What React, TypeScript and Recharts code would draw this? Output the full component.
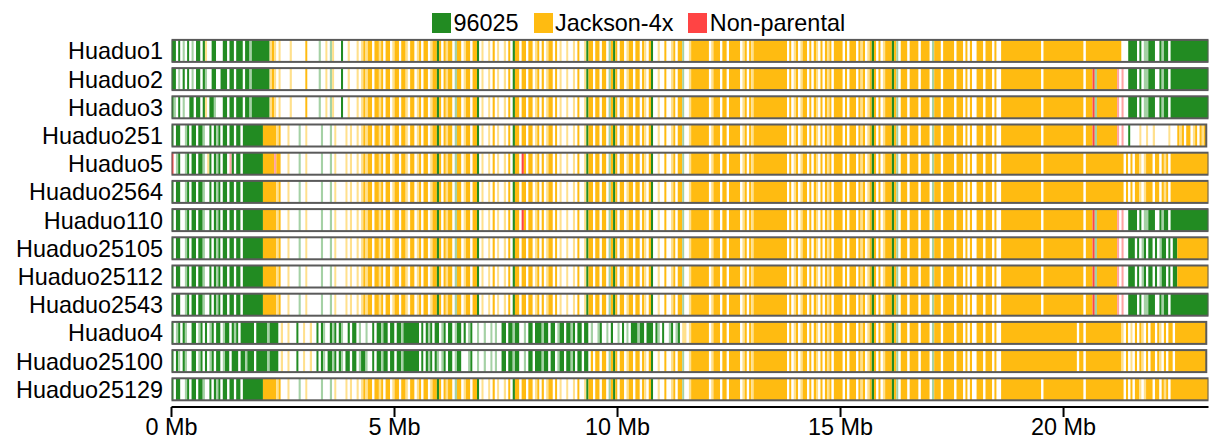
import React from 'react'
import { BarChart, Bar, XAxis, YAxis, Cell } from 'recharts'

// genotype calls are read in 0.05 Mb bins along the chromosome
const BIN_MB = 0.05
const CHROM_MB = 23.25
const X_TICKS = [0, 5, 10, 15, 20]

const FONT = '"Liberation Sans", Arial, sans-serif'
const YAXIS_WIDTH = 171.5
const MARGIN = { top: 36.9, right: 3.5, bottom: 0, left: 0 }

const LEGEND = [
  { label: '96025', color: '#228B22' },
  { label: 'Jackson-4x', color: '#FFBB11' },
  { label: 'Non-parental', color: '#FF4444' },
]

// G = 96025, Y = Jackson-4x, R = non-parental, lower case = faint call, W = no call
const CALL_COLORS: Record<string, string> = {
  G: '#228B22',
  g: '#A5D1A5',
  Y: '#FFBB11',
  y: '#FFE08C',
  R: '#FF4444',
  r: '#FFA3A3',
  W: '#FFFFFF',
}

const LINES = [
  'Huaduo1',
  'Huaduo2',
  'Huaduo3',
  'Huaduo251',
  'Huaduo5',
  'Huaduo2564',
  'Huaduo110',
  'Huaduo25105',
  'Huaduo25112',
  'Huaduo2543',
  'Huaduo4',
  'Huaduo25100',
  'Huaduo25129',
]

// 0 - 1.5 Mb
const P1A = ['GGWGWgWGWg', 'WGGWGyWWGG', 'WWWGGWGGWG'].join('')
const P1A2 = ['GGWgWGWGWg', 'WGGWGgWWGG', 'WWGGGWGGWG'].join('')
const P1A3 = ['GgWGWgWWGG', 'WGGWGyWGGg', 'WWWGGWGGWG'].join('')
const P1B = ['GWGGWWgGWG', 'GWGGgWWGWG', 'gGWGGWGGWG'].join('')
const P1C = ['RWgGWWgGWG', 'GWGGgWyGWG', 'gGWGGWrGWG'].join('')
// 1.5 - 2.2 Mb
const P2A = 'GGWGGgGGGGGGGG'
const P2B = 'GWGGGGGGGGGYYY'
// 2.2 - 4.3 Mb
const P3A = ['yYyWy', 'WWWWyWWWWW', 'WYWWWWWgWW', 'yWgyWWWGWW', 'yWWWyWy'].join('')
const P3B = ['YYYyY', 'WWWyWWWWgW', 'WyWWWWWWgW', 'WWgWyWWWWy', 'WyWWyWy'].join('')
const P3C = ['YYrYY', 'WWWyWWWWgW', 'WyWWWWWWgW', 'WWgWyWWWWy', 'WyWWyWy'].join('')
// 4.3 - 7.8 Mb
const P4A = ['YyYYWYYyYW', 'YYWyYYWYYy', 'WYYWyYWYYW', 'yYYGYWYyYY', 'WgYYWyYYWY', 'YGWyWWyWYW', 'yWWyWYWGYY'].join('')
// 7.8 - 11.55 Mb
const P4B = ['WYYWYYWyYW', 'YWyYYWYWyW', 'WyWWyWYWWy', 'GYYWYYWYYW', 'gYGYWYYWyY', 'YWYYWYyWYG', 'WWyWWYWWyY', 'WYYgW'].join('')
const P4B_RED = ['WRYWYYWyYW', 'YWyYYWYWyW', 'WyWWyWYWWy', 'GYYWYYWYYW', 'gYGYWYYWyY', 'YWYYWYyWYG', 'WWyWWYWWyY', 'WYYgW'].join('')
// 11.55 - 19.05 Mb
const P5_HEAD = [
  'WyYYYYYYYY', 'WyYYYWYYWY', 'YYYYWyYWYy', 'YYYYYYYYYY', 'YYYYYWYWyY',
  'WyYYWYWYyW', 'YWYyYWYYYY', 'WYWYYYWYyY', 'WyYGYWYWyY', 'YYGYgWYYYW',
  'YYYYWYYYYW', 'gYYYWYYYYY', 'WYYYWYWYWW', 'YYYWYYYWYW', 'WYYYYYYYYY',
].join('')
// 19.05 - 20.65 Mb
const P5_TAIL = ['YYYYYYYYYW', 'YYYYYYYYYY', 'YYYYYYYYWY', 'YY'].join('')
const P5_TAIL_B = ['YYYYYYYYYY', 'YYYYYYYYYY', 'YYYYYWYYWY', 'YY'].join('')
// 20.65 - 21.45 Mb
const P6_ONE = 'YYYYYYYYYYYYYWWW'
const P6_RED = 'RgYYYYYYYYYrWrWW'
const P6_YEL = 'YYYYYYYYYYYYYYWY'
const P6_Y2 = 'YYYYYYYYYYYYYyWY'
// 21.45 Mb - end
const P7_GREEN = 'GGGGWGWggGGGWWGgGGWGG' + 'GGGGGGGGGGGGGGG'
const P7_GY = 'GGGWGWgGWGGWGWgGGWGWG' + 'G' + 'YYYYYYYYYYYYYY'
const P7_251 = 'GWWWWyWWyWWyWWWWWWyWWW' + 'YyYWYYWyYWYyY'
const P7_YEL = 'WYWYYyWyYYYWYYWYyYWYY' + 'YYYYYYYYYYYYYYY'
const P7_Y2 = 'WyWYWYyWYWYYWYyWYWYYW' + 'YYYYYYYYYYYYYY'

// Huaduo4 / Huaduo25100 carry a long 96025 block on the left arm
const Q1 = ['GWgGWGgWWG', 'GWgGWGWgGW', 'GGWgGGWGgG', 'WGGGGGGW'].join('')
const Q1B = ['GWGgWGgWWG', 'GWgGWGWgGW', 'GGWgGGWGGG', 'WGGgGGGW'].join('')
const Q2 = 'GGGGGgGGGG'
const Q3 = 'WyWWyWWWGWWyWWyWW'
const Q4A = ['GWGgWWGgGW', 'GgWWGWGGWg', 'WWgWWGWGGg', 'GGWGGWGGgG', 'GGGGGGWGWG', 'gGWGGWgGWG', 'GWgGGWGWgG'].join('')
const Q4A2 = ['GWGgWGGgGW', 'GgWGGWGGWg', 'GGgWWGWGGg', 'GGWGGWGGgG', 'GGGGGGWGWG', 'gGWGgWgGWG', 'GWgGGWWWgG'].join('')
const Q4B = ['WWgWWgWWgW', 'gWWGGWGGgG', 'GWWgWGGWGG', 'GgGGWGGWgG', 'GWGGgGWGGW', 'GGW'].join('')
const Q4C = ['gWWgGWW', 'gWGWWgWGWg', 'WGGGgGGWGG', 'GWGgWGWWgG', 'WgGWyy'].join('')
const Q4D = ['YWYYWYYW', 'gYGYWYYWyY', 'YWYYWYyWYG', 'WWyWWYWWyY', 'WYYgW'].join('')

const ROW_PIECES = [
  [P1A, P2A, P3A, P4A, P4B, P5_HEAD, P5_TAIL, P6_ONE, P7_GREEN],
  [P1A2, P2A, P3A, P4A, P4B, P5_HEAD, P5_TAIL, P6_RED, P7_GREEN],
  [P1A3, P2A, P3A, P4A, P4B, P5_HEAD, P5_TAIL, P6_RED, P7_GREEN],
  [P1B, P2B, P3B, P4A, P4B, P5_HEAD, P5_TAIL, P6_RED, P7_251],
  [P1C, P2B, P3C, P4A, P4B_RED, P5_HEAD, P5_TAIL, P6_YEL, P7_YEL],
  [P1B, P2B, P3B, P4A, P4B, P5_HEAD, P5_TAIL, P6_YEL, P7_YEL],
  [P1B, P2B, P3B, P4A, P4B_RED, P5_HEAD, P5_TAIL, P6_RED, P7_GREEN],
  [P1B, P2B, P3B, P4A, P4B, P5_HEAD, P5_TAIL, P6_RED, P7_GY],
  [P1B, P2B, P3B, P4A, P4B, P5_HEAD, P5_TAIL, P6_RED, P7_GY],
  [P1B, P2B, P3B, P4A, P4B, P5_HEAD, P5_TAIL, P6_RED, P7_GREEN],
  [Q1, Q2, Q3, Q4A, Q4B, Q4C, P5_HEAD, P5_TAIL_B, P6_Y2, P7_Y2],
  [Q1B, Q2, Q3, Q4A2, Q4B, Q4D, P5_HEAD, P5_TAIL_B, P6_Y2, P7_Y2],
  [P1B, P2B, P3B, P4A, P4B, P5_HEAD, P5_TAIL, P6_YEL, P7_YEL],
]

type Run = { code: string; len: number }

// collapse neighbouring bins with the same call into one segment
function toRuns(calls: string): Run[] {
  const out: Run[] = []
  for (const c of calls) {
    const last = out[out.length - 1]
    if (last && last.code === c) last.len += 1
    else out.push({ code: c, len: 1 })
  }
  return out
}

const rowRuns = ROW_PIECES.map((p) => toRuns(p.join('')))
const MAX_RUNS = Math.max(...rowRuns.map((r) => r.length))
// right-align the segments so the last series always holds the row end
const padded: (Run | null)[][] = rowRuns.map((r) => [
  ...Array(MAX_RUNS - r.length).fill(null),
  ...r,
])

const data = LINES.map((name, i) => {
  const row: Record<string, any> = { name }
  padded[i].forEach((s, j) => {
    row[`s${j}`] = s ? +(s.len * BIN_MB).toFixed(3) : 0
  })
  return row
})

// last segment of each row also draws the chromosome outline
function RowEnd(props: any) {
  const { x, y, width, height, fill, background } = props
  const left = background ? background.x : MARGIN.left + YAXIS_WIDTH
  return (
    <g>
      <rect x={x} y={y} width={width} height={height} fill={fill} />
      <rect
        x={left}
        y={y}
        width={x + width - left}
        height={height}
        fill="none"
        stroke="#5a5a5a"
        strokeWidth={2}
      />
    </g>
  )
}

export default function App() {
  return (
    <div style={{ position: 'absolute', left: 0, top: 0, width: 1212, height: 440, background: '#fff' }}>
      <div
        style={{
          position: 'absolute',
          left: 432,
          top: 11.5,
          display: 'flex',
          alignItems: 'center',
          fontFamily: FONT,
          fontSize: 23.4,
          lineHeight: '23.4px',
          color: '#000',
          whiteSpace: 'nowrap',
        }}
      >
        {LEGEND.map((l) => (
          <div key={l.label} style={{ display: 'flex', alignItems: 'center', marginRight: 15 }}>
            <span style={{ display: 'inline-block', width: 19, height: 20, background: l.color, marginRight: 2.5 }} />
            <span>{l.label}</span>
          </div>
        ))}
      </div>
      <BarChart width={1212} height={440} data={data} layout="vertical" margin={MARGIN}>
        <XAxis
          type="number"
          domain={[0, CHROM_MB]}
          allowDataOverflow
          ticks={X_TICKS}
          tickFormatter={(v) => `${v} Mb`}
          height={33}
          tickSize={10}
          tickMargin={1}
          axisLine={{ stroke: '#000', strokeWidth: 2 }}
          tickLine={{ stroke: '#000', strokeWidth: 2 }}
          tick={{ fill: '#000', fontSize: 23.4, fontFamily: FONT }}
        />
        <YAxis
          type="category"
          dataKey="name"
          width={YAXIS_WIDTH}
          interval={0}
          tickSize={0}
          tickMargin={8.5}
          axisLine={false}
          tickLine={false}
          padding={{ top: 0, bottom: 3.5 }}
          tick={{ fill: '#000', fontSize: 23.4, fontFamily: FONT }}
        />
        {Array.from({ length: MAX_RUNS }, (_, j) => (
          <Bar
            key={j}
            dataKey={`s${j}`}
            stackId="chr"
            barSize={22}
            isAnimationActive={false}
            shape={j === MAX_RUNS - 1 ? RowEnd : undefined}
          >
            {padded.map((r, i) => (
              <Cell key={i} fill={r[j] ? CALL_COLORS[r[j]!.code] : 'none'} />
            ))}
          </Bar>
        ))}
      </BarChart>
    </div>
  )
}
